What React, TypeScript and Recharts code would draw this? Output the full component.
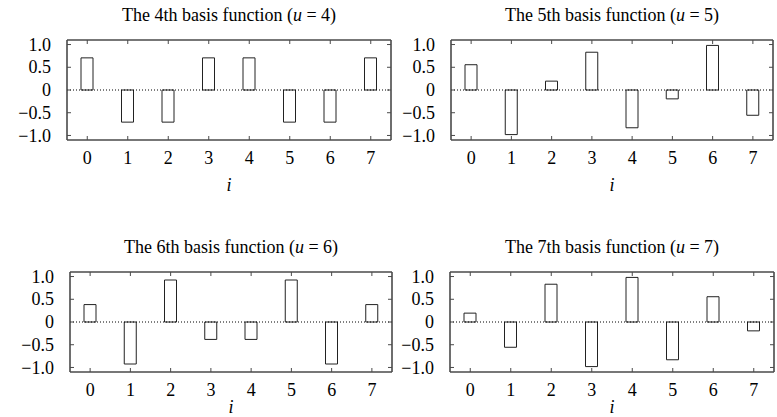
import React from 'react';
import { BarChart, Bar, XAxis, YAxis, ReferenceLine } from 'recharts';

// DCT basis values f_u(i), i = 0..7
const indices = [0, 1, 2, 3, 4, 5, 6, 7];
const basisU4 = [0.707, -0.707, -0.707, 0.707, 0.707, -0.707, -0.707, 0.707];
const basisU5 = [0.556, -0.981, 0.195, 0.831, -0.831, -0.195, 0.981, -0.556];
const basisU6 = [0.383, -0.924, 0.924, -0.383, -0.383, 0.924, -0.924, 0.383];
const basisU7 = [0.195, -0.556, 0.831, -0.981, 0.981, -0.831, 0.556, -0.195];
const yTicks = [-1, -0.5, 0, 0.5, 1];

const FONT = "'Liberation Serif', 'Times New Roman', serif";
const FRAME = '#4a4a4a';
const Y_DOMAIN: [number, number] = [-1.1, 1.1];

// chart box padding around the plot area (top/right include 1px mirror axes)
const PAD_L = 64;
const PAD_T = 30;
const PAD_R = 6;
const PAD_B = 40;

interface PanelSpec {
  u: number;
  ordinal: string;
  values: number[];
  left: number; // plot area position on the page
  top: number;
  width: number;
  height: number;
  xLabelBaseline: number;
}

const panels: PanelSpec[] = [
  { u: 4, ordinal: '4th', values: basisU4, left: 67, top: 40, width: 324, height: 100, xLabelBaseline: 191 },
  { u: 5, ordinal: '5th', values: basisU5, left: 451, top: 40, width: 322, height: 100, xLabelBaseline: 191 },
  { u: 6, ordinal: '6th', values: basisU6, left: 70, top: 272, width: 322, height: 100, xLabelBaseline: 413 },
  { u: 7, ordinal: '7th', values: basisU7, left: 450, top: 272, width: 324, height: 100, xLabelBaseline: 413 },
];

const fmtY = (v: number) => (v === 0 ? '0' : v.toFixed(1).replace('-', '\u2212'));
const textStyle = { fontFamily: FONT, fontSize: 18 };

function XTick({ x, y, payload }: any) {
  return (
    <text x={x} y={y} dy="0.71em" textAnchor="middle" fill="#000" style={textStyle}>
      {payload.value}
    </text>
  );
}

function YTick({ x, y, payload }: any) {
  return (
    <text x={x} y={y} dy="0.34em" textAnchor="end" fill="#000" style={textStyle}>
      {fmtY(payload.value)}
    </text>
  );
}

// mirror axes keep their tick marks but carry no labels
const NoLabel = () => <g />;

function BasisPanel({ spec }: { spec: PanelSpec }) {
  const data = indices.map((i, k) => ({ i, v: spec.values[k] }));
  const w = PAD_L + spec.width + PAD_R;
  const h = PAD_T + spec.height + PAD_B;
  const axisLine = { stroke: FRAME, strokeWidth: 1.6 };
  const tickLine = { stroke: FRAME, strokeWidth: 1 };

  return (
    <div style={{ position: 'absolute', left: spec.left - PAD_L, top: spec.top - PAD_T, fontFamily: FONT }}>
      <BarChart
        width={w}
        height={h}
        data={data}
        margin={{ top: PAD_T - 1, right: PAD_R - 1, bottom: 0, left: 0 }}
        style={{ fontFamily: FONT }}
      >
        <XAxis
          xAxisId="bottom"
          dataKey="i"
          height={PAD_B}
          stroke={FRAME}
          axisLine={axisLine}
          tickLine={tickLine}
          tickSize={-4}
          tickMargin={15}
          tick={<XTick />}
          interval={0}
        />
        <XAxis
          xAxisId="top"
          orientation="top"
          dataKey="i"
          height={1}
          stroke={FRAME}
          axisLine={axisLine}
          tickLine={tickLine}
          tickSize={-4}
          tick={<NoLabel />}
          interval={0}
        />
        <YAxis
          yAxisId="left"
          width={PAD_L}
          domain={Y_DOMAIN}
          ticks={yTicks}
          interval={0}
          stroke={FRAME}
          axisLine={axisLine}
          tickLine={tickLine}
          tickSize={-4}
          tickMargin={20}
          tick={<YTick />}
        />
        <YAxis
          yAxisId="right"
          orientation="right"
          width={1}
          domain={Y_DOMAIN}
          ticks={yTicks}
          interval={0}
          stroke={FRAME}
          axisLine={axisLine}
          tickLine={tickLine}
          tickSize={-4}
          tick={<NoLabel />}
        />
        <ReferenceLine
          xAxisId="bottom"
          yAxisId="left"
          y={0}
          stroke="#000"
          strokeWidth={1}
          strokeDasharray="1 2"
        />
        <Bar
          xAxisId="bottom"
          yAxisId="left"
          dataKey="v"
          barSize={12}
          fill="none"
          stroke="#222"
          strokeWidth={1}
          isAnimationActive={false}
        />
        {/* invisible series that binds the mirrored top/right frame axes */}
        <Bar
          xAxisId="top"
          yAxisId="right"
          dataKey="v"
          barSize={12}
          fill="none"
          stroke="none"
          legendType="none"
          isAnimationActive={false}
        />
      </BarChart>
    </div>
  );
}

export default function App() {
  return (
    <div style={{ position: 'absolute', left: 0, top: 0, width: 777, height: 417, background: '#fff' }}>
      {panels.map((p) => (
        <BasisPanel key={p.u} spec={p} />
      ))}
      <svg
        width={777}
        height={417}
        style={{ position: 'absolute', left: 0, top: 0, pointerEvents: 'none' }}
        fontFamily={FONT}
        fontSize={18}
      >
        {panels.map((p) => {
          const cx = p.left + p.width / 2;
          return (
            <g key={p.u}>
              <text x={cx} y={p.top - 19} textAnchor="middle">
                {`The ${p.ordinal} basis function (`}
                <tspan fontStyle="italic">u</tspan>
                {` = ${p.u})`}
              </text>
              <text x={cx} y={p.xLabelBaseline} textAnchor="middle" fontStyle="italic">
                i
              </text>
            </g>
          );
        })}
      </svg>
    </div>
  );
}
